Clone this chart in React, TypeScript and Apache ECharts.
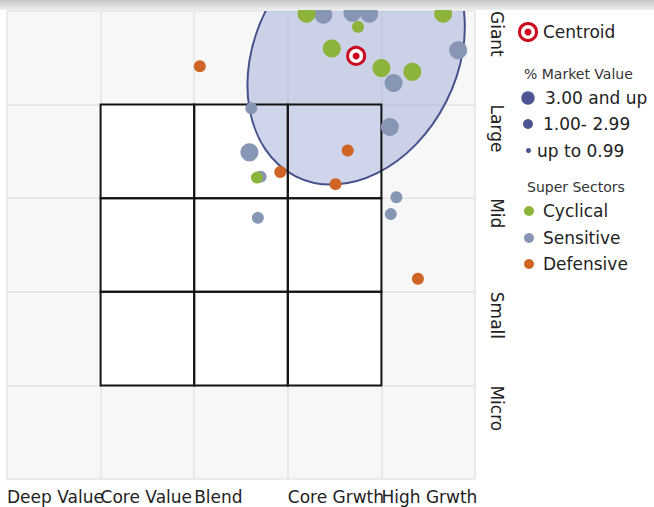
import React, { useEffect, useRef } from "react";
import * as echarts from "echarts";

// Axis categories (tick labels placed at the left/top edge of each band)
const X_LABELS = ["Deep Value", "Core Value", "Blend", "Core Grwth", "High Grwth"];
const Y_LABELS = ["Micro", "Small", "Mid", "Large", "Giant"];

// Holdings: [style score, size score, % market value]
const CYCLICAL: [number, number, number][] = [
  [3.2, 4.97, 3.4],
  [4.66, 4.97, 3.4],
  [3.75, 4.83, 1.5],
  [3.47, 4.6, 3.4],
  [4.0, 4.39, 3.4],
  [4.33, 4.35, 3.4],
  [2.67, 3.22, 1.5],
];
const SENSITIVE: [number, number, number][] = [
  [3.38, 4.96, 3.4],
  [3.69, 4.98, 3.4],
  [3.87, 4.97, 3.4],
  [4.82, 4.58, 3.4],
  [4.13, 4.23, 3.4],
  [4.09, 3.76, 3.4],
  [2.59, 3.49, 3.4],
  [2.61, 3.96, 1.1],
  [2.71, 3.23, 1.5],
  [4.16, 3.01, 1.5],
  [4.1, 2.83, 1.5],
  [2.68, 2.79, 1.5],
];
const DEFENSIVE: [number, number, number][] = [
  [2.06, 4.41, 1.5],
  [3.64, 3.51, 1.5],
  [2.92, 3.28, 1.5],
  [3.51, 3.15, 1.5],
  [4.39, 2.14, 1.5],
];

const CENTROID: [number, number] = [3.73, 4.52];
const ELLIPSE_AXES: [number, number] = [1.44, 1.08];
const ELLIPSE_ANGLE_DEG = 63.3;

// Style box (3x3): lower-left corners of cells
const BOX_COLS = [1, 2, 3];
const BOX_ROWS = [1, 2, 3];

const GREEN = "#8cb43b";
const BLUEGRAY = "#8796b4";
const ORANGE = "#cf6425";
const NAVY = "#4a5591";
const RED = "#cc0b1f";
const FONT = "DejaVu Sans";

export default function App() {
  const ref = useRef<HTMLDivElement>(null);

  useEffect(() => {
    if (!ref.current) return;
    const chart = echarts.init(ref.current, undefined, { renderer: "svg" });

    const cells: number[][] = [];
    BOX_ROWS.forEach((r) => BOX_COLS.forEach((c) => cells.push([c, r])));

    const cellRender = (fill: boolean) => (params: any, api: any) => {
      const x = api.value(0);
      const y = api.value(1);
      const p = api.coord([x, y + 1]);
      const s = api.size([1, 1]);
      return {
        type: "rect",
        shape: { x: p[0], y: p[1], width: s[0], height: s[1] },
        style: fill
          ? { fill: "#ffffff", stroke: "none" }
          : { fill: "none", stroke: "#141414", lineWidth: 2 },
      };
    };

    const sizeOf = (v: number[]) => (v[2] >= 3 ? 18 : v[2] >= 1 ? 12 : 7);

    const legendGraphics: any[] = [
      {
        type: "rect",
        shape: { x: 0, y: 0, width: 654, height: 10 },
        style: {
          fill: new echarts.graphic.LinearGradient(0, 0, 0, 1, [
            { offset: 0, color: "#c4c4c4" },
            { offset: 1, color: "#eeeeee" },
          ]),
        },
        z: 100,
      },
      { type: "circle", shape: { cx: 528, cy: 32, r: 8.5 }, style: { fill: "#fff", stroke: RED, lineWidth: 3 } },
      { type: "circle", shape: { cx: 528, cy: 32, r: 3.5 }, style: { fill: RED } },
      { type: "text", x: 543, y: 32, style: { text: "Centroid", font: `17px '${FONT}'`, fill: "#222", verticalAlign: "middle" } },
      { type: "text", x: 524, y: 74, style: { text: "% Market Value", font: `14px '${FONT}'`, fill: "#333", verticalAlign: "middle" } },
      { type: "circle", shape: { cx: 528, cy: 98, r: 6.7 }, style: { fill: NAVY } },
      { type: "text", x: 545, y: 98, style: { text: "3.00 and up", font: `17px '${FONT}'`, fill: "#222", verticalAlign: "middle" } },
      { type: "circle", shape: { cx: 528, cy: 124, r: 5 }, style: { fill: NAVY } },
      { type: "text", x: 543, y: 124, style: { text: "1.00- 2.99", font: `17px '${FONT}'`, fill: "#222", verticalAlign: "middle" } },
      { type: "circle", shape: { cx: 528.5, cy: 150.5, r: 2.5 }, style: { fill: NAVY } },
      { type: "text", x: 537, y: 151, style: { text: "up to 0.99", font: `17px '${FONT}'`, fill: "#222", verticalAlign: "middle" } },
      { type: "text", x: 527, y: 187, style: { text: "Super Sectors", font: `14px '${FONT}'`, fill: "#333", verticalAlign: "middle" } },
      { type: "circle", shape: { cx: 529, cy: 211, r: 5 }, style: { fill: GREEN } },
      { type: "text", x: 543, y: 211, style: { text: "Cyclical", font: `17px '${FONT}'`, fill: "#222", verticalAlign: "middle" } },
      { type: "circle", shape: { cx: 529, cy: 238, r: 5 }, style: { fill: BLUEGRAY } },
      { type: "text", x: 543, y: 238, style: { text: "Sensitive", font: `17px '${FONT}'`, fill: "#222", verticalAlign: "middle" } },
      { type: "circle", shape: { cx: 529, cy: 264, r: 5 }, style: { fill: ORANGE } },
      { type: "text", x: 543, y: 264, style: { text: "Defensive", font: `17px '${FONT}'`, fill: "#222", verticalAlign: "middle" } },
    ];

    const xAxisFor = (parity: number, showSplit: boolean) => ({
      type: "value",
      position: "bottom",
      offset: 0,
      min: 0,
      max: 5,
      interval: 1,
      axisLine: { show: false },
      axisTick: { show: false },
      splitLine: { show: showSplit, lineStyle: { color: "#e4e4e4", width: 1.5 } },
      axisLabel: {
        margin: 9,
        align: "left",
        verticalAlign: "top",
        fontSize: 17,
        color: "#222",
        fontFamily: FONT,
        showMinLabel: true,
        showMaxLabel: true,
        hideOverlap: false,
        formatter: (v: number) => {
          const i = Math.round(v);
          return i % 2 === parity ? X_LABELS[i] ?? "" : "";
        },
      },
    });

    chart.setOption({
      animation: false,
      backgroundColor: "#ffffff",
      textStyle: { fontFamily: FONT },
      grid: {
        left: 7,
        top: 11,
        width: 468,
        height: 468,
        show: true,
        backgroundColor: "#f7f7f7",
        borderWidth: 0,
      },
      xAxis: [xAxisFor(0, true), xAxisFor(1, false)],
      yAxis: {
        type: "value",
        position: "right",
        min: 0,
        max: 5,
        interval: 1,
        axisLine: { show: false },
        axisTick: { show: false },
        splitLine: { show: true, lineStyle: { color: "#e4e4e4", width: 1.5 } },
        axisLabel: {
          margin: 22,
          rotate: -90,
          align: "left",
          verticalAlign: "middle",
          fontSize: 17,
          color: "#222",
          fontFamily: FONT,
          showMaxLabel: true,
          formatter: (v: number) => (v >= 1 ? Y_LABELS[Math.round(v) - 1] ?? "" : ""),
        },
      },
      series: [
        {
          type: "custom",
          name: "cellsFill",
          z: 1,
          data: cells,
          renderItem: cellRender(true),
          silent: true,
        },
        {
          type: "custom",
          name: "ellipse",
          z: 2,
          clip: true,
          data: [CENTROID],
          silent: true,
          renderItem: (params: any, api: any) => {
            const c = api.coord([api.value(0), api.value(1)]);
            const s = api.size(ELLIPSE_AXES);
            return {
              type: "ellipse",
              x: c[0],
              y: c[1],
              rotation: (ELLIPSE_ANGLE_DEG * Math.PI) / 180,
              shape: { cx: 0, cy: 0, rx: s[0], ry: s[1] },
              style: { fill: "rgba(160,172,214,0.5)", stroke: "#46528c", lineWidth: 2 },
            };
          },
        },
        {
          type: "custom",
          name: "cellsStroke",
          z: 3,
          data: cells,
          renderItem: cellRender(false),
          silent: true,
        },
        {
          type: "scatter",
          name: "Sensitive",
          z: 4,
          data: SENSITIVE,
          symbolSize: sizeOf,
          itemStyle: { color: BLUEGRAY, opacity: 1 },
        },
        {
          type: "scatter",
          name: "Defensive",
          z: 4,
          data: DEFENSIVE,
          symbolSize: sizeOf,
          itemStyle: { color: ORANGE, opacity: 1 },
        },
        {
          type: "scatter",
          name: "Cyclical",
          z: 4,
          data: CYCLICAL,
          symbolSize: sizeOf,
          itemStyle: { color: GREEN, opacity: 1 },
        },
        {
          type: "custom",
          name: "Centroid",
          z: 5,
          data: [CENTROID],
          renderItem: (params: any, api: any) => {
            const c = api.coord([api.value(0), api.value(1)]);
            return {
              type: "group",
              children: [
                { type: "circle", shape: { cx: c[0], cy: c[1], r: 8.5 }, style: { fill: "#fff", stroke: RED, lineWidth: 3 } },
                { type: "circle", shape: { cx: c[0], cy: c[1], r: 3.5 }, style: { fill: RED } },
              ],
            };
          },
        },
      ],
      graphic: legendGraphics,
    });

    return () => chart.dispose();
  }, []);

  return (
    <div
      ref={ref}
      style={{ position: "fixed", left: 0, top: 0, width: 654, height: 507 }}
    />
  );
}
